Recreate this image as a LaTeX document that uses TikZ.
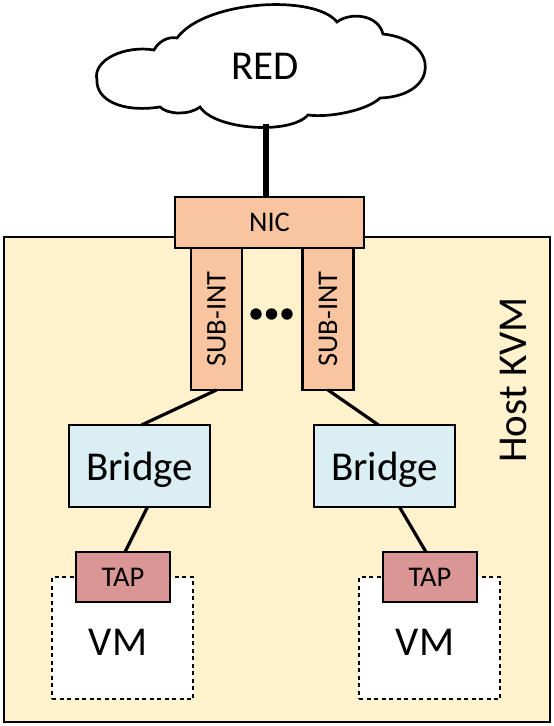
\documentclass[tikz,border=0pt]{standalone}
\usepackage{fontspec}
\setmainfont{Carlito}
\usepackage{tikz}

\definecolor{hostfill}{HTML}{FFF2CC}
\definecolor{nicfill}{HTML}{F8C5A0}
\definecolor{bridgefill}{HTML}{DAEEF3}
\definecolor{tapfill}{HTML}{D99694}
\newcommand{\bigtxt}{\fontsize{41}{49}\selectfont}
\newcommand{\smalltxt}{\fontsize{28.5}{34}\selectfont}

\begin{document}
\begin{tikzpicture}[x=1pt,y=-1pt,
	box/.style={draw,line width=2.7pt,inner sep=0pt,outer sep=0pt},
	hostbox/.style={box,fill=hostfill,minimum width=546pt,minimum height=485pt},
	nicbox/.style={box,fill=nicfill,font=\smalltxt},
	subbox/.style={nicbox,rotate=90,minimum width=142pt,minimum height=51pt},
	bridgebox/.style={box,fill=bridgefill,font=\bigtxt,text depth=0pt,minimum width=141pt,minimum height=82pt},
	tapbox/.style={box,fill=tapfill,font=\smalltxt,minimum width=94pt,minimum height=50pt},
	vmbox/.style={draw,line width=2.4pt,dash pattern=on 4pt off 3.5pt,fill=white,minimum width=141pt,minimum height=122pt,inner sep=0pt},
	link/.style={line width=3.2pt}]
\useasboundingbox (0,0) rectangle (554,726);

\node[hostbox] (host) at (277,479.5) {};
\node[rotate=90,font=\bigtxt,inner sep=0pt] (hostlbl) at (513.5,380) {Host KVM};

\draw[line width=2.7pt,fill=white] (97,80)
	.. controls (92,60) and (125,45) .. (154,50)
	.. controls (158,42) and (168,36) .. (177,38)
	.. controls (205,0) and (315,-6) .. (337,22)
	.. controls (350,12) and (378,14) .. (383,34)
	.. controls (440,40) and (440,96) .. (380,98)
	.. controls (368,110) and (330,118) .. (308,115)
	.. controls (290,135) and (215,130) .. (200,107)
	.. controls (190,115) and (168,115) .. (160,107)
	.. controls (120,113) and (96,99) .. cycle;
\node[font=\bigtxt,inner sep=0pt] (red) at (265,66) {RED};
\coordinate (redbot) at (266,124);

\node[nicbox,minimum width=189pt,minimum height=51pt] (nic) at (269.5,222.5) {NIC};
\draw[line width=5.5pt] (redbot) -- (redbot |- nic.north);

\node[subbox] (sub1) at (216.5,319) {SUB-INT};
\node[subbox] (sub2) at (328,319) {SUB-INT};
\foreach \x in {256,271.5,287}
	\fill (\x,314) circle (5.7pt);

\node[bridgebox] (br1) at (139.5,466) {Bridge};
\node[bridgebox] (br2) at (384.5,466) {Bridge};

\node[vmbox] (vm1) at (122.5,638) {};
\node[vmbox] (vm2) at (429.5,638) {};
\node[font=\bigtxt,inner sep=0pt] (vmlbl1) at (118,642) {VM};
\node[font=\bigtxt,inner sep=0pt] (vmlbl2) at (425,642) {VM};

\node[tapbox] (tap1) at (123,577) {TAP};
\node[tapbox] (tap2) at (430,577) {TAP};

\draw[link] (sub1.west) -- ([xshift=2pt]br1.north);
\draw[link] (sub2.west) -- ([xshift=-6pt]br2.north);
\draw[link] ([xshift=8pt]br1.south) -- ([xshift=2pt]tap1.north);
\draw[link] ([xshift=15pt]br2.south) -- ([xshift=-4pt]tap2.north);

\end{tikzpicture}
\end{document}
